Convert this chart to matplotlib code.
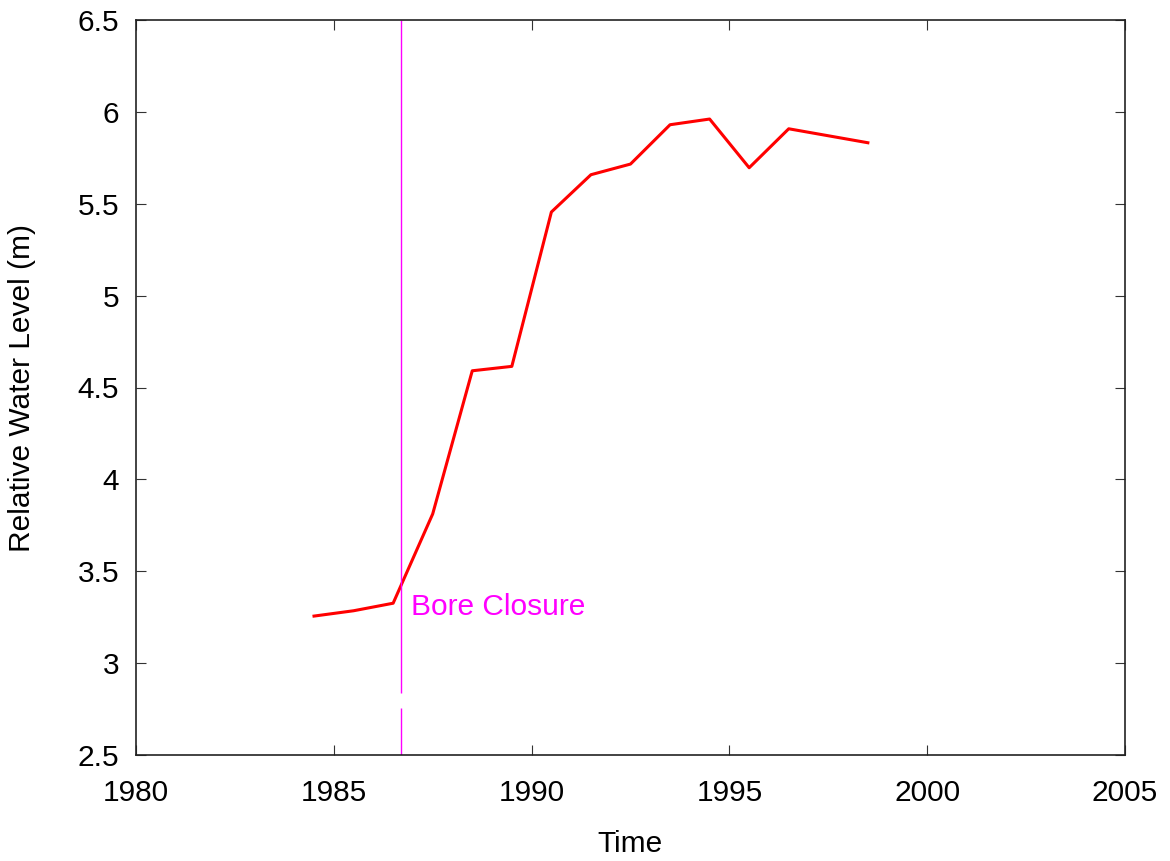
import numpy as np
import matplotlib
matplotlib.use("Agg")
import matplotlib.pyplot as plt

plt.rcParams['font.family'] = ['Liberation Sans', 'DejaVu Sans']

# water level record
years = [1984.5, 1985.5, 1986.5, 1987.5, 1988.5, 1989.5, 1990.5,
         1991.5, 1992.5, 1993.5, 1994.5, 1995.5, 1996.5, 1998.5]
level = [3.256, 3.285, 3.326, 3.812, 4.591, 4.615, 5.455,
         5.658, 5.716, 5.930, 5.961, 5.696, 5.908, 5.832]

closure_year = 1986.7
closure_label = "Bore Closure"

xticks = [1980, 1985, 1990, 1995, 2000, 2005]
yticks = [2.5, 3, 3.5, 4, 4.5, 5, 5.5, 6, 6.5]

fs = 21.5

fig = plt.figure(figsize=(11.7, 8.61), dpi=100)
ax = fig.add_axes([136/1170, 1-755/861, (1125-136)/1170, (755-20)/861])

ax.plot(years, level, color='#ff0000', lw=2.2)

# closure marker, the line is broken just above the bottom axis
ax.vlines(closure_year, 2.837, 6.5, color='#ff00ff', lw=1.0)
ax.vlines(closure_year, 2.5, 2.756, color='#ff00ff', lw=1.0)
ax.text(closure_year + 0.24, 3.305, closure_label, color='#ff00ff',
        fontsize=fs, va='center', ha='left')

ax.set_xlim(1980, 2005)
ax.set_ylim(2.5, 6.5)
ax.set_xticks(xticks)
ax.set_xticklabels([str(t) for t in xticks])
ax.set_yticks(yticks)
ax.set_yticklabels([f"{t:g}" for t in yticks])

ax.tick_params(direction='in', length=7, width=0.8, top=True, right=True,
               labelsize=fs, color='#333333')
ax.tick_params(axis='y', pad=12)
ax.tick_params(axis='x', pad=17)
for s in ax.spines.values():
    s.set_linewidth(1.2)
    s.set_color('#222222')

ax.set_xlabel("Time", fontsize=fs, labelpad=17)
ax.set_ylabel("Relative Water Level (m)", fontsize=fs, labelpad=30)

fig.savefig("out.png", dpi=100)
